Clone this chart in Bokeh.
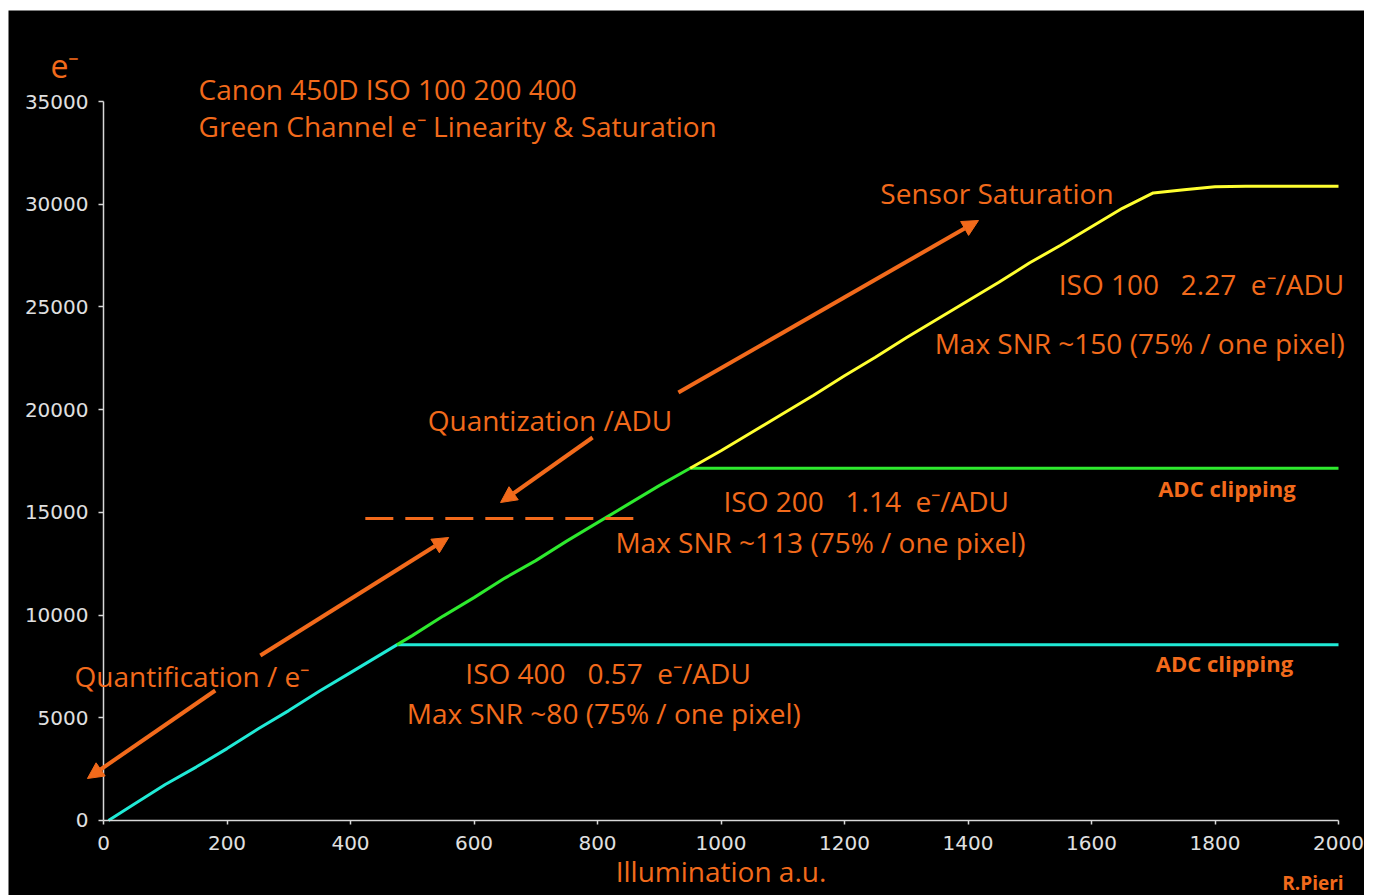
from bokeh.plotting import figure
from bokeh.models import Label, Arrow, NormalHead, FixedTicker, Range1d
from bokeh.embed import file_html
from bokeh.resources import INLINE

# ---- data ----
iso400_x = [8, 50, 100, 150, 200, 250, 300, 350, 400, 450, 475, 2000]
iso400_y = [0, 800, 1750, 2600, 3500, 4450, 5350, 6300, 7200, 8100, 8550, 8550]

iso200_x = [475, 500, 550, 600, 650, 700, 750, 800, 850, 900, 950, 2000]
iso200_y = [8550, 9000, 9950, 10850, 11800, 12650, 13600, 14500, 15400, 16300, 17150, 17150]

iso100_x = [950, 1000, 1050, 1100, 1150, 1200, 1250, 1300, 1350, 1400, 1450, 1500,
            1550, 1600, 1650, 1700, 1750, 1800, 1850, 2000]
iso100_y = [17150, 18000, 18900, 19800, 20700, 21650, 22550, 23500, 24400, 25300, 26200,
            27150, 28000, 28900, 29800, 30550, 30700, 30850, 30870, 30870]

quant_level_x = [424, 865]
quant_level_y = [14700, 14700]

x_ticks = [0, 200, 400, 600, 800, 1000, 1200, 1400, 1600, 1800, 2000]
y_ticks = [0, 5000, 10000, 15000, 20000, 25000, 30000, 35000]

ORANGE = "#F26A1B"
CYAN = "#20EAD6"
GREEN = "#2EEA2E"
YELLOW = "#FFFF30"
FONT = "Open Sans"
NB = "\u00a0"

p = figure(frame_width=1356, frame_height=885, min_border=0,
           x_range=Range1d(-153.85, 2042.1), y_range=Range1d(-3651, 39430),
           output_backend="svg", toolbar_location=None,
           background_fill_color="black", border_fill_color="black")
p.margin = (10, 14, 0, 8)
p.outline_line_color = None
p.xgrid.visible = False
p.ygrid.visible = False

for ax in (p.xaxis[0], p.yaxis[0]):
    ax.fixed_location = 0
    ax.axis_line_color = "#D8D8D8"
    ax.axis_line_width = 1.5
    ax.major_tick_line_color = "#D8D8D8"
    ax.major_tick_line_width = 1.5
    ax.minor_tick_line_color = None
    ax.major_tick_in = 0
    ax.major_label_text_color = "#E0E0E0"
    ax.major_label_text_font = "DejaVu Sans"
    ax.major_label_text_font_size = "20px"

p.xaxis.bounds = (0, 2000)
p.yaxis.bounds = (0, 35000)
p.xaxis.ticker = FixedTicker(ticks=x_ticks)
p.yaxis.ticker = FixedTicker(ticks=y_ticks)
p.xaxis.major_tick_out = 4
p.yaxis.major_tick_out = 5
p.xaxis.major_label_standoff = 12
p.yaxis.major_label_standoff = 10
p.xaxis.axis_label = "Illumination a.u."
p.xaxis.axis_label_text_color = ORANGE
p.xaxis.axis_label_text_font = FONT
p.xaxis.axis_label_text_font_style = "normal"
p.xaxis.axis_label_text_font_size = "28px"
p.xaxis.axis_label_standoff = -2

p.line(iso400_x, iso400_y, line_color=CYAN, line_width=3)
p.line(iso200_x, iso200_y, line_color=GREEN, line_width=3)
p.line(iso100_x, iso100_y, line_color=YELLOW, line_width=3)
p.line(quant_level_x, quant_level_y, line_color=ORANGE, line_width=3, line_dash="28 12")

def arrow(x0, y0, x1, y1):
    p.add_layout(Arrow(x_start=x0, y_start=y0, x_end=x1, y_end=y1,
                       line_color=ORANGE, line_width=4,
                       end=NormalHead(size=16, fill_color=ORANGE, line_color=ORANGE)))

arrow(931, 20835, 1417, 29207)
arrow(792, 18644, 643, 15480)
arrow(254, 8032, 559, 13776)
arrow(181, 6328, -26, 2045)

def label(x, y, text, size="28px", style="normal", align="left"):
    p.add_layout(Label(x=x, y=y, text=text, text_color=ORANGE, text_font=FONT,
                       text_font_size=size, text_font_style=style,
                       text_baseline="middle", text_align=align))

label(-86, 36752, "e\u207b", size="32px")
label(154, 35633, "Canon 450D ISO 100 200 400")
label(154, 33784, "Green Channel e\u207b Linearity & Saturation")
label(1258, 30522, "Sensor Saturation")
label(1547, 26092, f"ISO 100{NB}{NB} 2.27{NB} e\u207b/ADU")
label(1346, 23220, "Max SNR ~150 (75% / one pixel)")
label(525, 19520, "Quantization /ADU")
label(1004, 15577, f"ISO 200{NB}{NB} 1.14{NB} e\u207b/ADU")
label(829, 13533, "Max SNR ~113 (75% / one pixel)")
label(1708, 16210, "ADC clipping", size="22px", style="bold")
label(1704, 7691, "ADC clipping", size="22px", style="bold")
label(-47, 7058, "Quantification / e\u207b")
label(586, 7204, f"ISO 400{NB}{NB} 0.57{NB} e\u207b/ADU")
label(491, 5209, "Max SNR ~80 (75% / one pixel)")
label(1909, -3020, "R.Pieri", size="19px", style="bold")

open("out.html", "w").write(file_html(p, INLINE))
